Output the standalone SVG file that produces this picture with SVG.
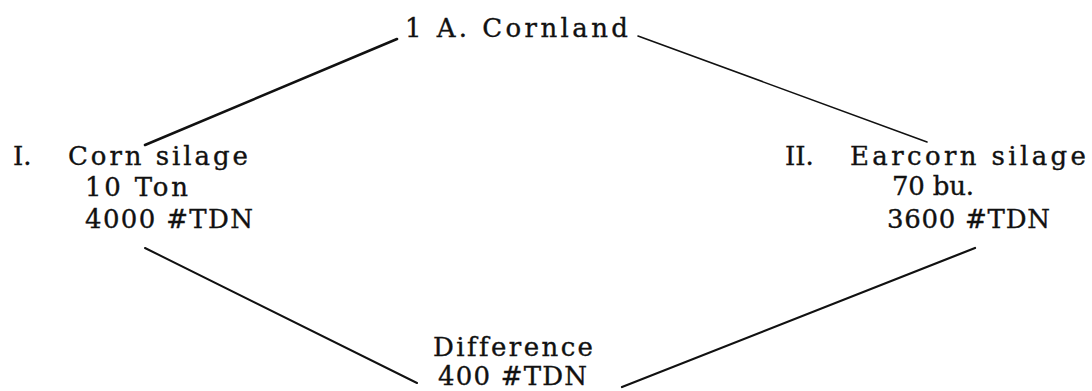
<svg xmlns="http://www.w3.org/2000/svg" width="1092" height="391" viewBox="0 0 1092 391">
<style>
text{font-family:"DejaVu Serif","Liberation Serif",serif;font-size:26px;fill:#111;stroke:#111;stroke-width:0.35;font-variant-ligatures:none}
.c{fill:none;stroke:#111;stroke-linecap:round}
</style>
<rect width="1092" height="391" fill="#fff"/>
<g id="connectors">
<line class="c" x1="145" y1="145" x2="397" y2="39" stroke-width="2.6"/>
<line class="c" x1="638" y1="36" x2="927" y2="142" stroke-width="1.6"/>
<line class="c" x1="145" y1="248" x2="417" y2="383" stroke-width="2"/>
<line class="c" x1="622" y1="387" x2="975" y2="248" stroke-width="2.2"/>
</g>
<g id="node-cornland">
<text x="405" y="37" textLength="223" lengthAdjust="spacing">1 A. Cornland</text>
</g>
<g id="node-corn-silage">
<text x="13" y="165">I.</text>
<text x="68" y="165" textLength="180" lengthAdjust="spacing">Corn silage</text>
<text x="85" y="196" textLength="103" lengthAdjust="spacing">10 Ton</text>
<text x="85" y="228" textLength="168" lengthAdjust="spacing">4000 #TDN</text>
</g>
<g id="node-earcorn-silage">
<text x="785" y="165">II.</text>
<text x="850" y="165" textLength="236" lengthAdjust="spacing">Earcorn silage</text>
<text x="892" y="195" textLength="82" lengthAdjust="spacing">70 bu.</text>
<text x="887" y="228" textLength="163" lengthAdjust="spacing">3600 #TDN</text>
</g>
<g id="node-difference">
<text x="433" y="356" textLength="160" lengthAdjust="spacing">Difference</text>
<text x="438" y="385" textLength="149" lengthAdjust="spacing">400 #TDN</text>
</g>
</svg>
